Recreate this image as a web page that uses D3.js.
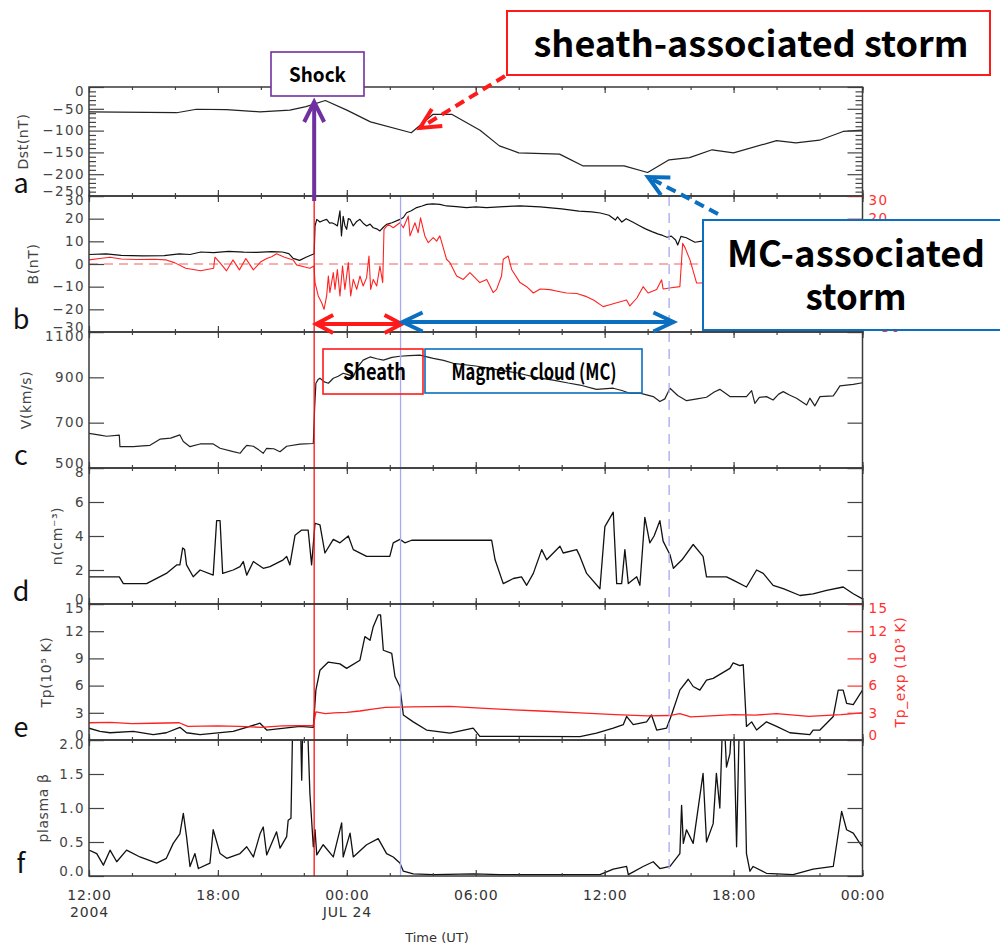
<!DOCTYPE html>
<html>
<head>
<meta charset="utf-8">
<script src="https://cdn.jsdelivr.net/npm/d3@7"></script>
<style>
  body { margin: 0; background: #fff; }
  svg { display: block; }
</style>
</head>
<body>
<svg id="fig" width="1000" height="951"></svg>
<script>
// ---- Time series, hours after 2004-07-23 12:00 UT ----------------------
const dst = [[0,-57],[4.08,-59],[5.0,-51],[6.4,-52],[7.95,-57],[9.35,-53],[10.1,-45],[11.0,-31],[12.0,-53],[13.1,-80],[15.0,-105],[16.0,-63],[16.9,-63],[18.2,-99],[19.1,-135],[20.0,-151],[21.9,-154],[23.0,-181],[24.9,-181],[26.0,-196],[27.0,-167],[27.95,-162],[29.0,-144],[30.0,-151],[32.0,-123],[32.9,-128],[34.0,-122],[35.1,-102],[36,-99]];

const bTotal = [[0,4.2],[0.8,4.5],[1.5,3.8],[2.5,3.6],[3.5,3.7],[4.2,4.5],[4.7,4.2],[5.2,5.3],[5.8,5.0],[6.5,5.6],[7.2,5.2],[7.8,5.1],[8.5,5.5],[9.0,5.3],[9.3,4.6],[9.5,2.5],[9.8,1.6],[10.1,3.0],[10.4,4.2],[10.48,4.5],[10.52,16.8],[10.6,19.7],[10.75,18.5],[10.9,19.2],[11.06,19.7],[11.2,18.0],[11.3,18.2],[11.45,17.5],[11.56,16.8],[11.68,23.4],[11.75,12.4],[11.83,21],[11.91,17],[11.99,15.3],[12.07,20],[12.15,19.7],[12.3,16.8],[12.46,18.8],[12.61,19.7],[12.76,18.0],[12.92,16.8],[13.08,17.6],[13.23,16],[13.39,15.5],[13.54,14.6],[13.7,16.2],[13.85,17.5],[14.1,18.2],[14.47,19.7],[14.63,20.5],[14.78,22.6],[15.0,23.5],[15.25,24.9],[15.5,25.6],[15.72,26.3],[16.0,26.5],[16.33,26.3],[16.64,25.6],[17.1,25.3],[17.57,24.9],[18.0,25.2],[18.5,24.9],[19.3,25.3],[20.06,25.6],[21.0,25.2],[22.0,24.3],[22.8,23.3],[23.4,23.0],[23.8,22.5],[24.2,21.5],[24.5,19.4],[24.6,20.8],[24.8,18.5],[25.0,20],[25.3,18.5],[25.6,17.0],[25.9,15.5],[26.2,14.3],[26.5,13.2],[26.7,12.6],[26.9,11.8],[27.1,12.3],[27.3,10.6],[27.4,8.4],[27.55,12.2],[27.8,11.6],[28.2,9.6],[28.6,10.2],[29.0,9.5],[30,10],[31,9],[32,9.5],[33,8.5],[34,9],[35,8],[36,8.5]];

const bz = [[0,1.8],[0.5,2.4],[0.98,3.0],[1.5,2.2],[2.2,2.0],[3.0,2.1],[3.6,1.8],[4.0,0.5],[4.5,-1.9],[5.2,-3.0],[5.8,-1.9],[5.86,3.0],[6.1,0.5],[6.4,-3.0],[6.7,1.8],[7.0,-2.6],[7.3,2.4],[7.5,-0.5],[7.65,-2.6],[8.0,1.0],[8.27,2.4],[8.5,3.2],[8.73,4.5],[9.1,3.0],[9.5,1.8],[9.66,-0.4],[10.0,-1.2],[10.28,-1.9],[10.47,-0.9],[10.52,-8.2],[10.67,-14.1],[10.83,-17.1],[10.94,-20],[11.06,-14.1],[11.14,-5.3],[11.21,-12.6],[11.37,-3.8],[11.45,-11.2],[11.56,-2.4],[11.68,-14.1],[11.8,-0.9],[11.91,-11.2],[12.07,0.6],[12.18,-14.1],[12.3,-6.8],[12.46,-11.2],[12.61,-5.3],[12.76,-9.7],[12.92,-6.0],[13.03,3.5],[13.11,-11.2],[13.23,-6.8],[13.39,-9.7],[13.54,-0.9],[13.67,-8.2],[13.73,15.3],[13.93,17.5],[14.16,16],[14.47,18.2],[14.63,16],[14.86,21.2],[14.94,12.4],[15.17,18.2],[15.32,13.8],[15.43,20.4],[15.63,12.4],[15.79,9.4],[16.02,11.6],[16.18,10.1],[16.33,12.4],[16.64,2.1],[16.8,0.6],[17.11,-5.3],[17.42,-6.8],[17.73,-3.8],[18.19,-8.2],[18.51,-6.8],[18.81,-12.6],[18.97,-11.2],[19.2,-5.3],[19.28,2.1],[19.51,3.5],[19.67,-2.4],[20.06,-8.2],[20.37,-10],[20.68,-12.8],[21.0,-11],[21.45,-11.3],[21.8,-12],[22.23,-12.8],[22.7,-13],[23.16,-14.4],[23.5,-16],[23.93,-18.8],[24.24,-18],[24.6,-17],[25.02,-15.9],[25.17,-18.5],[25.5,-15],[25.79,-10],[26.02,-12.8],[26.42,-11.3],[26.65,-7],[26.72,-11],[27.1,-10.5],[27.5,-10],[27.63,9.1],[27.75,7],[27.97,1.8],[28.28,-8.4],[28.5,-8.4],[29.5,-4],[31,-2],[33,-3],[34.5,-1],[36,-2]];

const speed = [[0,653],[0.51,645],[0.82,640],[1.41,645],[1.44,594],[2.06,594],[2.5,598],[2.84,600],[3.3,627],[3.8,632],[4.23,646],[4.39,617],[4.7,594],[5.17,606],[5.78,606],[6.1,587],[6.71,572],[7.03,565],[7.2,585],[7.34,600],[7.65,596],[7.9,580],[8.11,565],[8.27,587],[8.6,585],[8.89,572],[9.2,596],[9.82,605],[10.44,608],[10.5,760],[10.56,874],[10.66,890],[10.75,896],[10.95,880],[11.14,874],[11.37,896],[11.6,905],[11.83,918],[12.05,912],[12.3,903],[12.5,945],[12.76,976],[13.08,990],[13.4,982],[13.7,976],[14.1,988],[14.47,993],[14.9,996],[15.4,998],[16.02,984],[16.5,975],[16.95,962],[18.0,950],[19.13,932],[20.0,918],[20.8,900],[21.6,888],[22.3,875],[22.85,866],[23.62,847],[24.4,852],[24.8,842],[25.17,830],[25.64,830],[26.26,815],[26.57,793],[26.8,805],[27.04,852],[27.4,820],[27.81,797],[28.3,805],[28.74,812],[29.1,835],[29.36,847],[29.83,815],[30.6,815],[30.84,841],[30.99,785],[31.2,812],[31.53,815],[31.84,800],[32.1,826],[32.31,837],[32.6,822],[32.93,808],[33.4,778],[33.55,808],[33.78,774],[34.02,815],[34.64,818],[34.8,840],[34.95,862],[35.57,869],[36,876]];

const density = [[0,1.6],[1.41,1.6],[1.6,1.2],[2.68,1.2],[3.6,1.8],[4.08,2.3],[4.23,2.3],[4.36,3.3],[4.45,3.2],[4.54,2.3],[4.85,1.6],[5.17,2.0],[5.78,1.7],[5.94,4.9],[6.1,4.9],[6.22,1.8],[6.71,2.0],[7.03,2.2],[7.18,2.5],[7.34,1.7],[7.65,2.5],[8.11,2.1],[8.42,2.2],[9.04,2.6],[9.2,2.8],[9.35,2.3],[9.59,4.05],[9.9,4.35],[10.2,4.35],[10.36,2.3],[10.52,4.75],[10.75,4.65],[10.98,3.0],[11.37,3.8],[11.68,3.6],[12.07,4.0],[12.3,3.2],[12.92,2.8],[13.54,2.8],[14.0,2.8],[14.16,3.6],[14.47,3.8],[14.7,3.6],[15.02,3.75],[18.74,3.75],[18.9,2.6],[19.28,1.2],[19.75,1.5],[20.13,1.6],[20.37,1.1],[20.68,1.8],[21.07,3.2],[21.3,2.6],[21.92,3.4],[22.07,3.0],[22.7,3.2],[22.85,2.8],[23.16,1.8],[23.78,0.9],[24.01,4.55],[24.4,5.4],[24.56,1.2],[24.79,1.2],[24.94,3.2],[25.1,1.2],[25.49,1.6],[25.64,1.1],[25.87,5.1],[26.1,3.6],[26.3,4.0],[26.57,4.9],[26.72,3.7],[27.04,2.9],[27.2,2.1],[27.6,2.6],[28.12,3.5],[28.58,2.8],[28.74,1.6],[29.67,1.6],[29.98,1.4],[30.6,1.0],[31.07,2.0],[31.38,1.8],[31.84,1.1],[32.31,0.9],[33.09,0.5],[33.7,0.6],[34.33,0.8],[35.1,1.0],[35.57,0.6],[36,0.3]];

const tp = [[0,1.3],[0.51,0.95],[0.98,0.8],[2.06,0.95],[2.99,0.6],[3.6,0.8],[4.23,1.4],[4.54,0.8],[5.17,0.6],[6.71,0.95],[7.96,1.85],[8.27,1.1],[9.82,1.5],[10.44,1.4],[10.56,5.5],[10.75,7.7],[11.14,8.6],[11.68,8.4],[11.99,7.9],[12.61,8.8],[12.84,11.4],[13.08,11.0],[13.23,12.5],[13.46,13.8],[13.57,13.8],[13.7,9.9],[14.09,9.56],[14.24,7.0],[14.47,5.9],[14.63,2.76],[15.09,2.0],[15.71,1.1],[16.8,0.75],[17.88,1.3],[18.19,0.4],[19.13,0.4],[19.75,0.4],[22.85,0.37],[23.62,0.75],[24.4,1.3],[24.87,1.7],[25.02,2.6],[25.33,1.7],[25.95,2.0],[26.18,2.76],[26.42,1.1],[26.88,1.3],[27.11,2.76],[27.5,5.5],[27.89,6.7],[28.12,5.9],[28.43,5.5],[28.74,6.6],[29.05,6.8],[29.83,7.9],[29.98,8.5],[30.29,8.2],[30.45,8.3],[30.6,1.5],[30.84,2.0],[31.07,1.1],[31.53,2.0],[32.0,1.5],[32.62,0.8],[33.55,0.6],[33.7,1.1],[34.02,1.1],[34.64,2.6],[34.87,5.5],[35.1,5.5],[35.26,4.05],[35.57,3.9],[36,5.5]];

const tpExp = [[0,1.9],[1.0,1.95],[2.0,1.8],[3.0,1.85],[4.2,1.9],[4.6,1.5],[6.0,1.55],[7.0,1.5],[8.0,1.4],[9.0,1.55],[10.44,1.6],[10.56,3.1],[11.0,2.9],[11.4,3.0],[12.0,3.05],[12.6,3.2],[13.2,3.4],[13.8,3.6],[15.0,3.65],[16.8,3.7],[18.0,3.55],[19.1,3.4],[21.0,3.2],[22.85,3.0],[24.5,2.8],[26.0,2.65],[27.0,2.7],[27.5,2.9],[28.0,2.55],[28.5,2.6],[30,2.8],[31.0,2.75],[32.0,2.9],[33.5,2.6],[35,2.8],[36,3.0]];

const beta = [[0,0.38],[0.36,0.33],[0.67,0.16],[0.98,0.38],[1.29,0.21],[1.75,0.38],[2.37,0.28],[3.15,0.19],[3.6,0.26],[3.92,0.48],[4.23,0.62],[4.39,0.92],[4.54,0.58],[4.7,0.14],[4.93,0.33],[5.09,0.11],[5.63,0.19],[5.78,0.68],[6.1,0.33],[6.41,0.26],[7.03,0.33],[7.34,0.43],[7.65,0.28],[7.96,0.62],[8.11,0.72],[8.27,0.31],[8.73,0.65],[8.89,0.41],[9.2,0.58],[9.27,0.82],[9.4,0.85],[9.5,2.6],[9.82,2.6],[9.9,1.41],[9.97,2.6],[10.13,2.6],[10.28,1.22],[10.44,0.43],[10.52,0.68],[10.6,0.31],[10.9,0.46],[11.37,0.28],[11.76,0.78],[11.83,0.28],[12.15,0.63],[12.3,0.28],[12.92,0.46],[13.46,0.55],[13.85,0.33],[14.16,0.28],[14.47,0.19],[14.63,0.07],[15.09,0.03],[16.02,0.02],[17.9,0.03],[19.13,0.02],[22.85,0.02],[23.78,0.02],[24.4,0.1],[25.02,0.14],[25.1,0.02],[25.79,0.14],[26.26,0.21],[26.57,0.11],[27.04,0.14],[27.5,0.33],[27.58,1.04],[27.66,0.48],[27.81,0.68],[28.12,0.48],[28.58,1.51],[28.74,0.5],[29.05,0.77],[29.2,1.51],[29.36,1.0],[29.52,2.6],[29.67,1.6],[29.83,1.8],[29.98,2.6],[30.14,0.43],[30.29,2.6],[30.45,2.6],[30.6,0.33],[30.76,0.07],[30.91,0.14],[31.53,0.04],[32.77,0.02],[33.7,0.1],[34.64,0.14],[35.03,0.95],[35.26,0.68],[35.57,0.63],[35.88,0.48],[36,0.43]];

// event times (hours after start)
const shockTime = 10.48;
const mcStart = 14.5;
const mcEnd = 27.0;
const arrowEnd = 27.2;

// axis labels
const timeLabels = ["12:00","18:00","00:00","06:00","12:00","18:00","00:00"];
const dateLabels = ["2004","","JUL 24","","","",""];

// ---- Layout ------------------------------------------------------------
const L = 89, R = 862.5;
const t0 = Date.UTC(2004, 6, 23, 12);
const toDate = h => new Date(t0 + h * 3600e3);

const x = d3.scaleUtc().domain([toDate(0), toDate(36)]).range([L, R]);
const majorTimes = d3.utcHour.every(6).range(toDate(0), toDate(36.01));
const minorTimes = d3.utcHour.every(2).range(toDate(0), toDate(36.01));

// the MC call-out box sits over the middle of the field panel's right scale,
// so only the labels that clear it are written there
const panels = [
  {id:"a", top:87,  bottom:196, domain:[-250,0], ticks:[-250,-200,-150,-100,-50,0], minor:d3.range(-250,1,10).filter(v=>v%50!==0), fmt:d3.format("d"), title:"Dst(nT)", titleX:23},
  {id:"b", top:196, bottom:332, domain:[-30,30], ticks:[-30,-20,-10,0,10,20,30], fmt:d3.format("d"), title:"B(nT)", titleX:33, right:"red", rightShown:[30,20,-30]},
  {id:"c", top:332, bottom:468, domain:[500,1100], ticks:[500,700,900,1100], fmt:d3.format("d"), title:"V(km/s)", titleX:26},
  {id:"d", top:468, bottom:604, domain:[0,8], ticks:[0,2,4,6,8], fmt:d3.format("d"), title:"n(cm\u207B\u00B3)", titleX:57},
  {id:"e", top:604, bottom:740, domain:[0,15], ticks:[0,3,6,9,12,15], fmt:d3.format("d"), title:"Tp(10\u2075 K)", titleX:46, right:"red"},
  {id:"f", top:740, bottom:876, domain:[0,2], ticks:[0,0.5,1,1.5,2], fmt:d3.format(".1f"), title:"plasma \u03B2", titleX:43}
];
panels.forEach(p => p.y = d3.scaleLinear().domain(p.domain).range([p.bottom, p.top]));
const P = Object.fromEntries(panels.map(p => [p.id, p]));

const svg = d3.select("#fig");
const defs = svg.append("defs");
const tickFont = "'DejaVu Sans', sans-serif";
const grey = "#444";

function styleAxis(g, color, size, spacing) {
  g.select(".domain").remove();
  g.selectAll(".tick line").attr("stroke", color).attr("stroke-width", 1.2);
  g.selectAll(".tick text").attr("fill", color).attr("font-size", size).attr("font-family", tickFont)
    .attr("letter-spacing", spacing || 0);
}
// keep the end labels of a vertical axis inside the panel height
function nudgeEnds(g, p) {
  g.selectAll(".tick text")
    .attr("y", d => d === p.domain[1] ? 4.5 : d === p.domain[0] ? -4.5 : 0);
}

// ---- Data lines ----------------------------------------------------------
function series(p, data, color, width) {
  const line = d3.line().x(d => x(toDate(d[0]))).y(d => p.y(d[1]));
  svg.append("path")
    .attr("d", line(data))
    .attr("fill", "none")
    .attr("stroke", color)
    .attr("stroke-width", width)
    .attr("stroke-linejoin", "round")
    .attr("clip-path", `url(#clip-${p.id})`);
}

panels.forEach(p => {
  defs.append("clipPath").attr("id", "clip-" + p.id)
    .append("rect").attr("x", L).attr("y", p.top).attr("width", R - L).attr("height", p.bottom - p.top);
});

// zero reference in the field panel
svg.append("line")
  .attr("x1", L).attr("x2", R)
  .attr("y1", P.b.y(0)).attr("y2", P.b.y(0))
  .attr("stroke", "#f06060").attr("stroke-width", 1.2).attr("stroke-dasharray", "9,6");

series(P.a, dst, "#222", 1.2);
series(P.b, bTotal, "#111", 1.2);
series(P.b, bz, "#ff2222", 1.1);
series(P.c, speed, "#222", 1.2);
series(P.d, density, "#111", 1.3);
series(P.e, tp, "#111", 1.3);
series(P.e, tpExp, "#ff2020", 1.3);
series(P.f, beta, "#111", 1.3);

// ---- Event markers -------------------------------------------------------
const yTopB = P.b.top, yBot = P.f.bottom;
svg.append("line").attr("x1", x(toDate(shockTime))).attr("x2", x(toDate(shockTime)))
  .attr("y1", yTopB).attr("y2", yBot).attr("stroke", "#ff1010").attr("stroke-width", 1.3);
svg.append("line").attr("x1", x(toDate(mcStart))).attr("x2", x(toDate(mcStart)))
  .attr("y1", yTopB).attr("y2", yBot).attr("stroke", "#a8a8f0").attr("stroke-width", 1.3);
svg.append("line").attr("x1", x(toDate(mcEnd))).attr("x2", x(toDate(mcEnd)))
  .attr("y1", yTopB).attr("y2", yBot).attr("stroke", "#a8a8f0").attr("stroke-width", 1.3)
  .attr("stroke-dasharray", "10,7");

// ---- Axes ------------------------------------------------------------------
panels.forEach(p => {
  // left
  const gl = svg.append("g").attr("transform", `translate(${L},0)`)
    .call(d3.axisLeft(p.y).tickValues(p.ticks).tickSizeInner(-15).tickSizeOuter(0).tickPadding(4).tickFormat(p.fmt));
  styleAxis(gl, grey, 13.5, 1.4);
  nudgeEnds(gl, p);
  // right
  const rc = p.right === "red" ? "#ff3030" : grey;
  const rightFmt = !p.right ? () => ""
    : p.rightShown ? d => (p.rightShown.includes(d) ? p.fmt(d) : "")
    : p.fmt;
  const gr = svg.append("g").attr("transform", `translate(${R},0)`)
    .call(d3.axisRight(p.y).tickValues(p.ticks).tickSizeInner(-15).tickSizeOuter(0).tickPadding(6)
      .tickFormat(rightFmt));
  styleAxis(gr, rc, 13.5, 1.4);
  nudgeEnds(gr, p);
  if (p.minor) {
    [[L, d3.axisLeft], [R, d3.axisRight]].forEach(([xx, ax]) => {
      const gm = svg.append("g").attr("transform", `translate(${xx},0)`)
        .call(ax(p.y).tickValues(p.minor).tickSizeInner(-7).tickSizeOuter(0).tickFormat(() => ""));
      styleAxis(gm, grey, 10);
    });
  }
  // time ticks on top and bottom edges, pointing inward
  [[p.bottom, d3.axisBottom, 6, majorTimes], [p.bottom, d3.axisBottom, 3, minorTimes],
   [p.top, d3.axisTop, 6, majorTimes], [p.top, d3.axisTop, 3, minorTimes]].forEach(([yy, ax, len, vals]) => {
    const gt = svg.append("g").attr("transform", `translate(0,${yy})`)
      .call(ax(x).tickValues(vals).tickSizeInner(-len).tickSizeOuter(0).tickFormat(() => ""));
    styleAxis(gt, grey, 10);
  });
  // frame
  svg.append("rect").attr("x", L).attr("y", p.top).attr("width", R - L).attr("height", p.bottom - p.top)
    .attr("fill", "none").attr("stroke", "#3a3a3a").attr("stroke-width", 1.5);
  // y title
  svg.append("text")
    .attr("transform", `translate(${p.titleX},${(p.top + p.bottom) / 2}) rotate(-90)`)
    .attr("text-anchor", "middle").attr("dominant-baseline", "central")
    .attr("font-family", tickFont).attr("font-size", 14).attr("letter-spacing", 0.6).attr("fill", grey)
    .text(p.title);
  // panel letter
  svg.append("text")
    .attr("x", 21).attr("y", p.bottom - 3)
    .attr("text-anchor", "middle")
    .attr("font-family", "'Noto Sans CJK KR', 'Noto Sans', sans-serif").attr("font-size", 27).attr("fill", "#111")
    .text(p.id);
});

// right-hand title of the temperature panel
svg.append("text")
  .attr("transform", `translate(900,${(P.e.top + P.e.bottom) / 2}) rotate(-90)`)
  .attr("text-anchor", "middle").attr("dominant-baseline", "central")
  .attr("font-family", tickFont).attr("font-size", 14).attr("letter-spacing", 0.6).attr("fill", "#ff3030")
  .text("Tp_exp (10\u2075 K)");

// time axis labels
const gx1 = svg.append("g").attr("transform", `translate(0,${P.f.bottom})`)
  .call(d3.axisBottom(x).tickValues(majorTimes).tickSize(0).tickPadding(14).tickFormat((d, i) => timeLabels[i]));
styleAxis(gx1, "#333", 14, 0.8);
const gx2 = svg.append("g").attr("transform", `translate(0,${P.f.bottom})`)
  .call(d3.axisBottom(x).tickValues(majorTimes).tickSize(0).tickPadding(31).tickFormat((d, i) => dateLabels[i]));
styleAxis(gx2, "#333", 14, 0.8);

svg.append("text").attr("x", 437).attr("y", 942).attr("text-anchor", "middle")
  .attr("font-family", tickFont).attr("font-size", 13).attr("fill", "#333").text("Time (UT)");

svg.append("text").attr("x", 517).attr("y", 986)
  .attr("font-family", "'Noto Sans', sans-serif").attr("font-size", 40).attr("fill", "#111")
  .attr("textLength", 397).attr("lengthAdjust", "spacingAndGlyphs")
  .text("[Zhang et al. 2007]");

// ---- Annotations ---------------------------------------------------------
const annFont = "'Noto Sans CJK KR', 'Noto Sans', sans-serif";

function chevron(tipX, tipY, fromX, fromY, len, half) {
  const dx = fromX - tipX, dy = fromY - tipY, n = Math.hypot(dx, dy);
  const ux = dx / n, uy = dy / n;
  const bx = tipX + ux * len, by = tipY + uy * len;
  return `M${bx - uy * half},${by + ux * half}L${tipX},${tipY}L${bx + uy * half},${by - ux * half}`;
}
function arrow(x1, y1, x2, y2, color, opts = {}) {
  const g = svg.append("g").attr("fill", "none").attr("stroke", color)
    .attr("stroke-width", opts.width || 4).attr("stroke-linecap", "butt").attr("stroke-linejoin", "miter");
  g.append("line").attr("x1", x1).attr("y1", y1).attr("x2", x2).attr("y2", y2)
    .attr("stroke-dasharray", opts.dash || null);
  g.append("path").attr("d", chevron(x2, y2, x1, y1, opts.len || 18, opts.half || 9));
  if (opts.both) g.append("path").attr("d", chevron(x1, y1, x2, y2, opts.len || 18, opts.half || 9));
}

// sheath and magnetic cloud intervals
arrow(x(toDate(shockTime)) + 2, 324, x(toDate(mcStart)) + 1, 324, "#ff1a1a", {both: true, len: 17, half: 9});
arrow(x(toDate(mcStart)) + 2, 322, x(toDate(arrowEnd)), 322, "#0a6fbf", {both: true, len: 20, half: 9.5});

// shock arrow
arrow(x(toDate(shockTime)), 201, x(toDate(shockTime)), 102, "#7030a0", {len: 20, half: 10});

// storm pointers
arrow(505, 76, 420, 128, "#ff1a1a", {dash: "10,6", len: 20, half: 10});
arrow(718, 214, 648, 177, "#0a6fbf", {dash: "10,6", len: 20, half: 10});

function box(bx, by, bw, bh, color, fill, sw) {
  svg.append("rect").attr("x", bx).attr("y", by).attr("width", bw).attr("height", bh)
    .attr("fill", fill).attr("stroke", color).attr("stroke-width", sw);
}
function label(tx, ty, str, size, len) {
  svg.append("text").attr("x", tx).attr("y", ty).attr("text-anchor", "middle")
    .attr("font-family", annFont).attr("font-weight", "bold").attr("font-size", size).attr("fill", "#000")
    .attr("textLength", len).attr("lengthAdjust", "spacingAndGlyphs")
    .text(str);
}

box(271, 52, 93, 44, "#7030a0", "#fff", 1.6);
label(317.5, 82, "Shock", 20, 57);

box(507, 11, 483, 64, "#ff1a1a", "#fff", 2);
label(751, 57, "sheath-associated storm", 35, 435);

box(703, 220, 320, 110, "#0a6fbf", "#fff", 2);
label(856, 267, "MC-associated", 36, 258);
label(856, 310, "storm", 36, 101);

box(323, 349, 100, 45, "#ff1a1a", "none", 1.6);
label(374.5, 380, "Sheath", 22, 63);
box(425, 349, 217, 44, "#0a6fbf", "none", 1.6);
label(534, 380, "Magnetic cloud (MC)", 22, 165);
</script>
</body>
</html>
